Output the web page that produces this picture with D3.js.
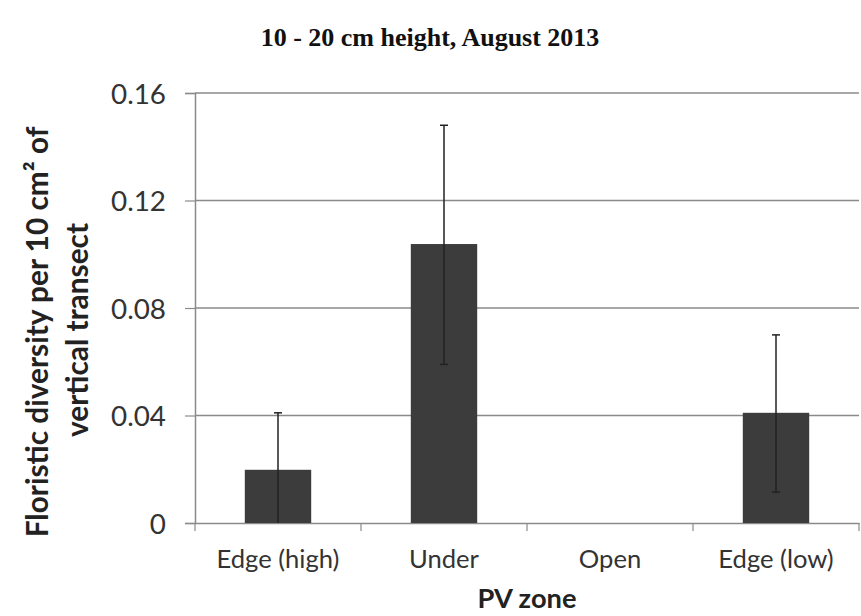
<!DOCTYPE html>
<html><head><meta charset="utf-8">
<script src="https://cdn.jsdelivr.net/npm/d3@7"></script>
<style>body{margin:0;background:#fff}</style>
</head><body>
<svg id="c" width="861" height="616"></svg>
<script>
const categories = ["Edge (high)", "Under", "Open", "Edge (low)"];
const means = [0.0198, 0.1038, 0, 0.041];
const errUpper = [0.041, 0.148, null, 0.070];
const errLower = [0, 0.059, null, 0.0115];
const yTicks = [0, 0.04, 0.08, 0.12, 0.16];
const yTickLabels = ["0", "0.04", "0.08", "0.12", "0.16"];

const SANS = "Lato, 'Open Sans', sans-serif";
const svg = d3.select("#c");
const L = 195, R = 859, T = 93, B = 523;
const x = d3.scaleBand().domain(categories).range([L, R]).paddingInner(0).paddingOuter(0);
const y = d3.scaleLinear().domain([0, 0.16]).range([B, T]);
const bw = x.bandwidth() * 0.4;

function fitSize(sel, target) {
  const s = 20;
  sel.attr("font-size", s);
  const w = sel.node().getComputedTextLength();
  return s * target / w;
}

// gridlines
svg.append("g").selectAll("line").data(yTicks.slice(1)).join("line")
  .attr("x1", L).attr("x2", R).attr("y1", d => y(d)).attr("y2", d => y(d))
  .attr("stroke", "#8a8a8a").attr("stroke-width", 1.5);

// y axis
const ya = svg.append("g").attr("transform", `translate(${L},0)`)
  .call(d3.axisLeft(y).tickValues(yTicks).tickFormat((d, i) => yTickLabels[i]).tickSizeOuter(0).tickSize(10).tickPadding(19));
ya.select(".domain").attr("stroke", "#8a8a8a").attr("stroke-width", 1.5);
ya.selectAll(".tick line").attr("stroke", "#8a8a8a").attr("stroke-width", 1.2);
const ytxt = ya.selectAll("text").attr("font-family", SANS).attr("fill", "#333").attr("dy", null).attr("y", 10);
const ys = fitSize(ya.selectAll("text").filter((d, i) => i === 4), 55);
ytxt.attr("font-size", ys);

// x axis
const xa = svg.append("g").attr("transform", `translate(0,${B})`)
  .call(d3.axisBottom(x).tickSize(0).tickPadding(0));
xa.select(".domain").attr("stroke", "#8a8a8a").attr("stroke-width", 1.5);
const xtxt = xa.selectAll("text").attr("font-family", SANS).attr("fill", "#333").attr("dy", null).attr("y", 45);
const xs = fitSize(xa.selectAll("text").filter((d, i) => i === 0), 123);
xtxt.attr("font-size", xs);
// boundary ticks
const bounds = [L].concat(categories.slice(1).map(c => x(c))).concat([R]);
svg.append("g").selectAll("line").data(bounds).join("line")
  .attr("x1", d => d).attr("x2", d => d)
  .attr("y1", B).attr("y2", B + 8).attr("stroke", "#8a8a8a").attr("stroke-width", 1.2);

// bars
svg.append("g").selectAll("rect").data(categories).join("rect")
  .attr("x", d => x(d) + x.bandwidth() / 2 - bw / 2)
  .attr("width", bw)
  .attr("y", (d, i) => y(means[i]))
  .attr("height", (d, i) => y(0) - y(means[i]))
  .attr("fill", "#3c3c3c");

// error bars
const eg = svg.append("g");
categories.forEach((c, i) => {
  if (errUpper[i] == null) return;
  const cx = x(c) + x.bandwidth() / 2;
  eg.append("line").attr("x1", cx).attr("x2", cx).attr("y1", y(errUpper[i])).attr("y2", y(errLower[i]))
    .attr("stroke", "#222").attr("stroke-width", 1.5);
  [errUpper[i], errLower[i]].forEach(v => {
    if (v <= 0) return;
    eg.append("line").attr("x1", cx - 4).attr("x2", cx + 4).attr("y1", y(v)).attr("y2", y(v))
      .attr("stroke", "#222").attr("stroke-width", 1.5);
  });
});

// title
svg.append("text").attr("x", 430).attr("y", 46).attr("text-anchor", "middle")
  .attr("font-family", "'Liberation Serif', 'Times New Roman', serif").attr("font-weight", "bold")
  .attr("font-size", 26).attr("fill", "#111").text("10 - 20 cm height, August 2013");

// y label
const yl1 = svg.append("text").attr("transform", "translate(48,332) rotate(-90)")
  .attr("text-anchor", "middle").attr("font-family", SANS)
  .attr("font-weight", "bold").attr("fill", "#222").text("Floristic diversity per 10 cm² of");
const yls = fitSize(yl1, 411);
yl1.attr("font-size", yls);
svg.append("text").attr("transform", "translate(88,330) rotate(-90)")
  .attr("text-anchor", "middle").attr("font-family", SANS)
  .attr("font-weight", "bold").attr("fill", "#222").attr("font-size", yls).text("vertical transect");

// x label
const xl = svg.append("text").attr("x", 527).attr("y", 608).attr("text-anchor", "middle")
  .attr("font-family", SANS).attr("font-weight", "bold")
  .attr("fill", "#222").text("PV zone");
xl.attr("font-size", fitSize(xl, 99));
</script>
</body></html>
